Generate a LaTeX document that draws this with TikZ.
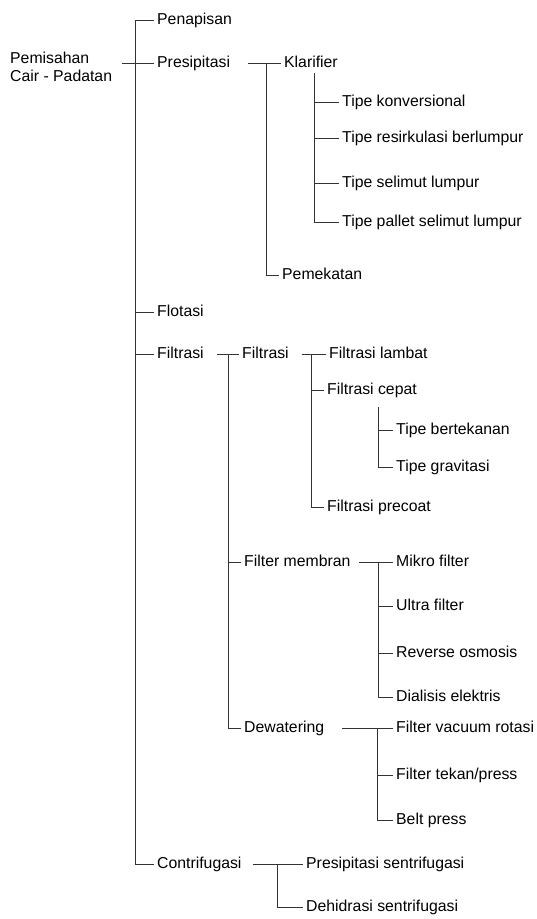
\documentclass[tikz,border=0pt]{standalone}
\usepackage{fontspec}
\setmainfont{Liberation Sans}
\usetikzlibrary{positioning}
\tikzset{
  item/.style = {
    anchor=west,
    inner sep=3pt,
    text height=11pt,
    text depth=3pt,
    font=\fontsize{15.8}{18.5}\selectfont
  },
  rootitem/.style = {
    anchor=west,
    inner sep=3pt,
    align=left,
    font=\fontsize{15.8}{18.5}\selectfont
  },
  link/.style = {
    line width=0.8pt,
    black!80
  }
}

\begin{document}
\begin{tikzpicture}[x=1pt,y=-1pt]
    \useasboundingbox (0,0) rectangle (536,919);
    \node[rootitem] (root) at (7,67) {Pemisahan\\Cair - Padatan};
    % level 1
    \node[item] (penapisan) at (154,20) {Penapisan};
    \node[item] (presipitasi) at (154,63) {Presipitasi};
    \node[item] (flotasi) at (154,312) {Flotasi};
    \node[item] (filtrasi) at (154,354) {Filtrasi};
    \node[item] (contrifugasi) at (154,864) {Contrifugasi};
    % presipitasi
    \node[item] (klarifier) at (281,63) {Klarifier};
    \node[item] (pemekatan) at (279,275) {Pemekatan};
    \node[item] (konversional) at (339,102) {Tipe konversional};
    \node[item] (resirkulasi) at (339,138) {Tipe resirkulasi berlumpur};
    \node[item] (selimut) at (339,183) {Tipe selimut lumpur};
    \node[item] (pallet) at (339,222) {Tipe pallet selimut lumpur};
    % filtrasi
    \node[item] (filtrasib) at (239,354) {Filtrasi};
    \node[item] (membran) at (241,562) {Filter membran};
    \node[item] (dewatering) at (241,728) {Dewatering};
    \node[item] (lambat) at (326,354) {Filtrasi lambat};
    \node[item] (cepat) at (324,390) {Filtrasi cepat};
    \node[item] (precoat) at (324,507) {Filtrasi precoat};
    \node[item] (bertekanan) at (393,430) {Tipe bertekanan};
    \node[item] (gravitasi) at (393,467) {Tipe gravitasi};
    \node[item] (mikro) at (393,562) {Mikro filter};
    \node[item] (ultra) at (393,606) {Ultra filter};
    \node[item] (reverse) at (393,653) {Reverse osmosis};
    \node[item] (dialisis) at (393,697) {Dialisis elektris};
    \node[item] (vacuum) at (393,728) {Filter vacuum rotasi};
    \node[item] (tekan) at (393,775) {Filter tekan/press};
    \node[item] (belt) at (393,820) {Belt press};
    % contrifugasi
    \node[item] (sentrifugasi) at (303,864) {Presipitasi sentrifugasi};
    \node[item] (dehidrasi) at (303,907) {Dehidrasi sentrifugasi};

    % bus points
    \coordinate (root-out) at (122,63);
    \coordinate (trunk) at (135,20);
    \coordinate (pres-out) at (248,63);
    \coordinate (pres-bus) at (266,63);
    \coordinate (klar-bus) at (314,73);
    \coordinate (filt-out) at (217,354);
    \coordinate (filt-bus) at (228,354);
    \coordinate (filtb-out) at (302,354);
    \coordinate (filtb-bus) at (311,354);
    \coordinate (cepat-bus) at (378,407);
    \coordinate (memb-out) at (359,562);
    \coordinate (memb-bus) at (378,562);
    \coordinate (dew-out) at (342,728);
    \coordinate (dew-bus) at (377,728);
    \coordinate (cont-out) at (253,864);
    \coordinate (cont-bus) at (277,864);

    \draw[link] (root-out) -- (presipitasi.west);
    \draw[link] (penapisan.west) -- (trunk) |- (contrifugasi.west);
    \draw[link] (trunk |- flotasi.west) -- (flotasi.west);
    \draw[link] (trunk |- filtrasi.west) -- (filtrasi.west);

    \draw[link] (pres-out) -- (klarifier.west);
    \draw[link] (pres-bus) |- (pemekatan.west);
    \draw[link] (klar-bus) |- (pallet.west);
    \draw[link] (klar-bus |- konversional.west) -- (konversional.west);
    \draw[link] (klar-bus |- resirkulasi.west) -- (resirkulasi.west);
    \draw[link] (klar-bus |- selimut.west) -- (selimut.west);

    \draw[link] (filt-out) -- (filtrasib.west);
    \draw[link] (filt-bus) |- (dewatering.west);
    \draw[link] (filt-bus |- membran.west) -- (membran.west);
    \draw[link] (filtb-out) -- (lambat.west);
    \draw[link] (filtb-bus) |- (precoat.west);
    \draw[link] (filtb-bus |- cepat.west) -- (cepat.west);
    \draw[link] (cepat-bus) |- (gravitasi.west);
    \draw[link] (cepat-bus |- bertekanan.west) -- (bertekanan.west);

    \draw[link] (memb-out) -- (mikro.west);
    \draw[link] (memb-bus) |- (dialisis.west);
    \draw[link] (memb-bus |- ultra.west) -- (ultra.west);
    \draw[link] (memb-bus |- reverse.west) -- (reverse.west);

    \draw[link] (dew-out) -- (vacuum.west);
    \draw[link] (dew-bus) |- (belt.west);
    \draw[link] (dew-bus |- tekan.west) -- (tekan.west);

    \draw[link] (cont-out) -- (sentrifugasi.west);
    \draw[link] (cont-bus) |- (dehidrasi.west);
\end{tikzpicture}
\end{document}
